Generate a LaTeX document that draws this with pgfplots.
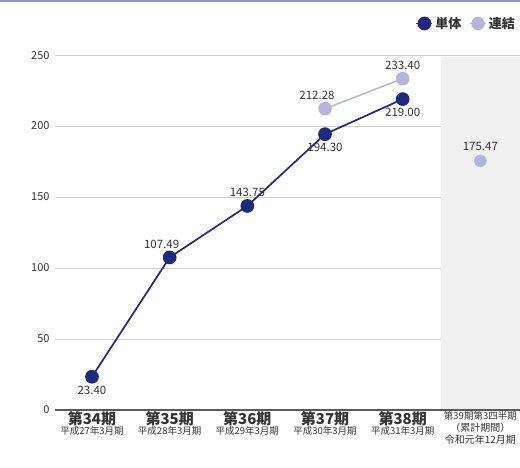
\documentclass[border=0pt]{standalone}
\usepackage{pgfplots}
\pgfplotsset{compat=1.18}
\usepackage{fontspec}
\setmainfont{Noto Sans CJK JP}
\definecolor{navy}{HTML}{1F2A7E}
\definecolor{lav}{HTML}{B5B4DA}
\definecolor{txt}{HTML}{333333}
\definecolor{shadebg}{HTML}{F0F0F0}
\definecolor{topline}{HTML}{8E97C8}
\definecolor{gridc}{HTML}{CFCFCF}
\begin{document}
\begin{tikzpicture}
\path[use as bounding box] (-55pt,-58pt) rectangle (465pt,410pt);
\fill[topline] (-55pt,407.5pt) rectangle (465pt,410pt);
\begin{axis}[
  at={(0,0)}, anchor=south west,
  scale only axis, width=465pt, height=362pt,
  xmin=-0.476, xmax=5.51, ymin=0, ymax=255,
  axis line style={draw=none},
  ytick={0,50,...,250},
  xtick={0,...,5},
  xticklabels={
    {\fontsize{15}{16}\selectfont\bfseries 第34期\\[-2pt]\fontsize{9.5}{11}\selectfont 平成27年3月期},
    {\fontsize{15}{16}\selectfont\bfseries 第35期\\[-2pt]\fontsize{9.5}{11}\selectfont 平成28年3月期},
    {\fontsize{15}{16}\selectfont\bfseries 第36期\\[-2pt]\fontsize{9.5}{11}\selectfont 平成29年3月期},
    {\fontsize{15}{16}\selectfont\bfseries 第37期\\[-2pt]\fontsize{9.5}{11}\selectfont 平成30年3月期},
    {\fontsize{15}{16}\selectfont\bfseries 第38期\\[-2pt]\fontsize{9.5}{11}\selectfont 平成31年3月期},
    {\fontsize{9.5}{14}\selectfont 第39期第3四半期\\（累計期間）\\令和元年12月期}},
  xticklabel style={align=center, anchor=north, text=txt, yshift=2pt},
  yticklabel style={font=\fontsize{11}{12}\selectfont, text=txt},
  /pgf/number format/assume math mode=true,
  major tick length=0pt,
  yticklabel shift=2pt,
  clip=false,
  legend columns=2,
  legend style={at={(1,1)}, anchor=south east, yshift=14pt, draw=none, fill=none,
    font=\fontsize{13}{14}\selectfont\bfseries, text=txt,
    /tikz/every even column/.append style={column sep=6pt}},
  legend image code/.code={\draw[#1] (0pt,0pt) -- (16pt,0pt); \draw[#1, mark repeat=1] plot coordinates {(8pt,0pt)};},
]
\fill[shadebg] (axis cs:4.49,0) rectangle (axis cs:5.51,248.5);
\draw[gridc, line width=0.8pt] (axis cs:-0.476,50) -- (axis cs:4.49,50);
\draw[gridc, line width=0.8pt] (axis cs:-0.476,100) -- (axis cs:4.49,100);
\draw[gridc, line width=0.8pt] (axis cs:-0.476,150) -- (axis cs:4.49,150);
\draw[gridc, line width=0.8pt] (axis cs:-0.476,200) -- (axis cs:4.49,200);
\draw[gridc, line width=0.8pt] (axis cs:-0.476,250) -- (axis cs:5.51,250);
\draw[gray!70!black, line width=1.6pt] (axis cs:-0.476,0) -- (axis cs:5.51,0);
\addplot[navy, line width=1.7pt, mark=*, mark size=6pt] coordinates {
  (0,23.40) (1,107.49) (2,143.75) (3,194.30) (4,219.00)};
\addlegendentry{単体}
\addplot[lav, line width=1.5pt, mark=*, mark size=6pt] coordinates {
  (3,212.28) (4,233.40)};
\addlegendentry{連結}
\addplot[lav, only marks, mark=*, mark size=6pt, forget plot] coordinates {(5,175.47)};
\begin{scope}[every node/.style={font=\fontsize{11.5}{12}\selectfont, text=txt, inner sep=1pt}]
\node[anchor=north, yshift=-8pt] at (axis cs:0,23.40) {23.40};
\node[anchor=south, yshift=8pt, xshift=-8pt] at (axis cs:1,107.49) {107.49};
\node[anchor=south, yshift=8pt] at (axis cs:2,143.75) {143.75};
\node[anchor=north, yshift=-8pt] at (axis cs:3,194.30) {194.30};
\node[anchor=south, yshift=8pt, xshift=-8pt] at (axis cs:3,212.28) {212.28};
\node[anchor=north, yshift=-8pt] at (axis cs:4,219.00) {219.00};
\node[anchor=south, yshift=8pt] at (axis cs:4,233.40) {233.40};
\node[anchor=south, yshift=9pt] at (axis cs:5,175.47) {175.47};
\end{scope}
\end{axis}
\end{tikzpicture}
\end{document}
